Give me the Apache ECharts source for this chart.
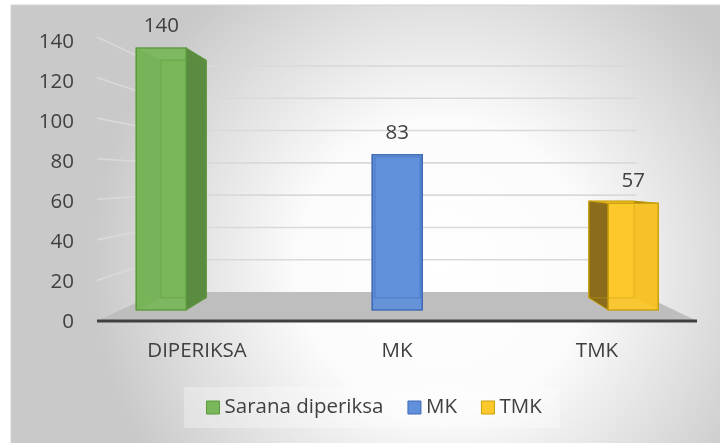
<!DOCTYPE html>
<html>
<head>
<meta charset="utf-8">
<script src="https://cdn.jsdelivr.net/npm/echarts@6/dist/echarts.min.js"></script>
<style>
  html, body { margin: 0; padding: 0; background: #fff; }
  #chart { width: 720px; height: 443px; }
</style>
</head>
<body>
<div id="chart"></div>
<script>
  // data
  var categories = ['DIPERIKSA', 'MK', 'TMK']
  var seriesNames = ['Sarana diperiksa', 'MK', 'TMK']
  var diperiksaValues = [140, null, null]
  var mkValues = [null, 83, null]
  var tmkValues = [null, null, 57]
  var yTicks = [0, 20, 40, 60, 80, 100, 120, 140]

  // perspective of the 3d look (vanishing point + depth factors)
  var VP_X = 400, VP_Y = 179
  var K_BACK_BAR = 0.907   // back face of a column
  var K_WALL = 0.863       // back wall
  var K_FRONT = 1.084      // front edge of floor
  var SLOT = 0.279, BAR_W = 0.271
  var FONT = '"Open Sans", sans-serif'
  var FS = 20.5
  var TEXT = '#404040'

  var colors = [
    { face: '#79b75a', side: '#5b8b40', edge: '#5a9a3b' },
    { face: '#6190da', side: '#416bb4', edge: '#3e68b4' },
    { face: '#fdc82c', side: '#8a6c1c', edge: '#c9a00a' }
  ]

  function proj(x, y, k) {
    return [VP_X + (x - VP_X) * k, VP_Y + (y - VP_Y) * k]
  }

  function toData(values) {
    var out = []
    values.forEach(function (v, i) { if (v != null) out.push([i, v]) })
    return out
  }

  function renderFloor(params, api) {
    var cs = params.coordSys
    var xl = cs.x, xr = cs.x + cs.width
    var y0 = api.coord([0, 0])[1]
    var fl = proj(xl, y0, K_FRONT), fr = proj(xr, y0, K_FRONT)
    var bl = proj(xl, y0, K_WALL), br = proj(xr, y0, K_WALL)
    return {
      type: 'group',
      children: [
        { type: 'polygon', shape: { points: [fl, fr, br, bl] }, style: { fill: '#bebebe' } },
        { type: 'polyline', shape: { points: [fl, fr] }, style: { stroke: '#404040', lineWidth: 3, fill: null } }
      ]
    }
  }

  function renderGridLine(params, api) {
    var cs = params.coordSys
    var xl = cs.x, xr = cs.x + cs.width
    var y = api.coord([0, api.value(1)])[1]
    return {
      type: 'polyline',
      shape: { points: [proj(xl, y, K_FRONT), proj(xl, y, K_WALL), proj(xr, y, K_WALL)] },
      style: { stroke: '#d9d9d9', lineWidth: 1.6, fill: null }
    }
  }

  function makeBarRenderer(slot, c) {
    return function (params, api) {
      var cat = api.value(0), val = api.value(1)
      var band = api.size([1, 0])[0]
      var base = api.coord([cat, 0])
      var top = api.coord([cat, val])
      var cx = base[0] + slot * band * SLOT
      var w = band * BAR_W
      var x0 = cx - w / 2, x1 = cx + w / 2, y0 = top[1], y1 = base[1]
      var b00 = proj(x0, y0, K_BACK_BAR), b10 = proj(x1, y0, K_BACK_BAR)
      var b01 = proj(x0, y1, K_BACK_BAR), b11 = proj(x1, y1, K_BACK_BAR)
      return {
        type: 'group',
        children: [
          { type: 'polygon', shape: { points: [b00, b10, b11, b01] }, style: { fill: c.face, stroke: c.edge, lineWidth: 1 } },
          { type: 'polygon', shape: { points: [[x1, y0], b10, b11, [x1, y1]] }, style: { fill: c.side, stroke: c.edge, lineWidth: 1 } },
          { type: 'polygon', shape: { points: [[x0, y0], b00, b01, [x0, y1]] }, style: { fill: c.side, stroke: c.edge, lineWidth: 1 } },
          { type: 'rect', shape: { x: x0, y: y0, width: w, height: y1 - y0 }, style: { fill: c.face, opacity: 0.94, stroke: c.edge, lineWidth: 1.5 } },
          { type: 'polyline', shape: { points: [b01, b00, b10, b11, b01] }, style: { stroke: c.edge, lineWidth: 1, opacity: 0.5, fill: null } },
          { type: 'text', style: { text: String(val), x: cx, y: y0 - 22, align: 'center', verticalAlign: 'middle', fontSize: FS, fontFamily: FONT, fill: TEXT } }
        ]
      }
    }
  }

  var barValues = [diperiksaValues, mkValues, tmkValues]
  var barSeries = seriesNames.map(function (name, i) {
    return {
      name: name,
      type: 'custom',
      xAxisIndex: 1,
      yAxisIndex: 1,
      z: 5,
      itemStyle: { color: colors[i].face, borderColor: colors[i].edge },
      renderItem: makeBarRenderer(i - 1, colors[i]),
      data: toData(barValues[i])
    }
  })

  var option = {
    animation: false,
    graphic: [{
      type: 'rect',
      z: -10,
      silent: true,
      shape: { x: 11, y: 5, width: 720, height: 450 },
      style: {
        stroke: '#d3d3d3',
        lineWidth: 1,
        fill: {
          type: 'radial', x: 0.6, y: 0.58, r: 0.78,
          colorStops: [
            { offset: 0, color: '#ffffff' },
            { offset: 0.42, color: '#fbfbfb' },
            { offset: 1, color: '#c9c9c9' }
          ]
        }
      }
    }],
    legend: {
      left: 184,
      top: 387,
      padding: [10, 18, 10, 22],
      backgroundColor: 'rgba(255,255,255,0.3)',
      icon: 'rect',
      itemWidth: 13,
      itemHeight: 13,
      itemGap: 24,
      textStyle: { fontSize: FS, fontFamily: FONT, color: TEXT },
      data: seriesNames.map(function (n, i) {
        return { name: n, itemStyle: { color: colors[i].face, borderColor: colors[i].edge, borderWidth: 1 } }
      })
    },
    grid: [
      { left: 97, right: 23, top: 42, bottom: 121 },
      { left: 120.5, right: 46, top: 48, bottom: 133 }
    ],
    xAxis: [
      {
        type: 'category',
        gridIndex: 0,
        data: categories,
        axisLine: { show: false },
        axisTick: { show: false },
        axisLabel: { fontSize: FS, fontFamily: FONT, color: TEXT, margin: 19 }
      },
      { type: 'category', gridIndex: 1, data: categories, show: false }
    ],
    yAxis: [
      {
        type: 'value',
        gridIndex: 0,
        min: 0, max: 140, interval: 20,
        splitLine: { show: false },
        axisLine: { show: false },
        axisTick: { show: false },
        axisLabel: { fontSize: FS, fontFamily: FONT, color: TEXT, margin: 23 }
      },
      { type: 'value', gridIndex: 1, min: 0, max: 140, interval: 20, show: false, splitLine: { show: false } }
    ],
    series: [
      {
        type: 'custom', xAxisIndex: 1, yAxisIndex: 1, z: 1, silent: true,
        renderItem: renderFloor, data: [[0, 0]]
      },
      {
        type: 'custom', xAxisIndex: 1, yAxisIndex: 1, z: 2, silent: true,
        renderItem: renderGridLine,
        data: yTicks.filter(function (v) { return v > 0 }).map(function (v) { return [0, v] })
      }
    ].concat(barSeries)
  }

  var chart = echarts.init(document.getElementById('chart'))
  chart.setOption(option)
  window.addEventListener('resize', function () { chart.resize() })
</script>
</body>
</html>
